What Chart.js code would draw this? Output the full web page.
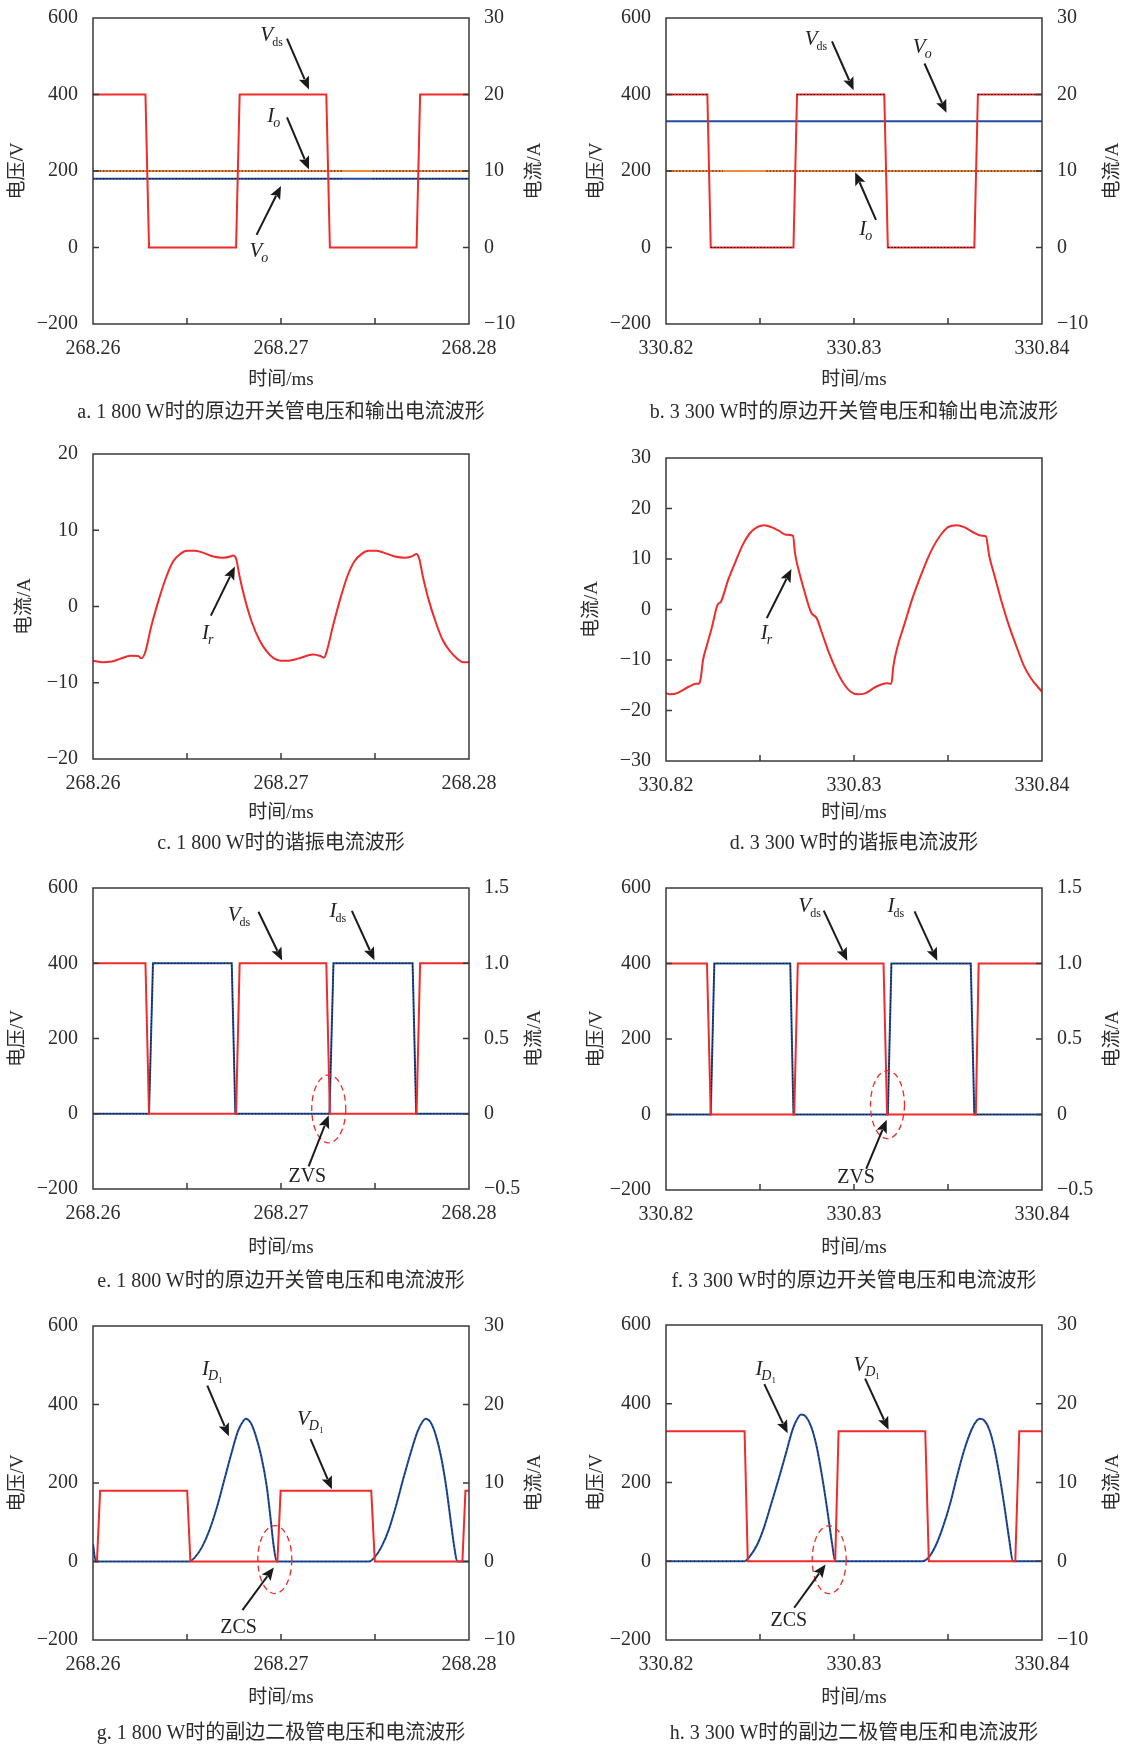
<!DOCTYPE html>
<html><head><meta charset="utf-8">
<script src="https://cdn.jsdelivr.net/npm/chart.js"></script>
<style>
body{margin:0;background:#fff;width:1126px;height:1747px;position:relative;overflow:hidden;}
canvas{position:absolute;}
.cap{position:absolute;font-family:'Liberation Serif','Noto Sans CJK SC',serif;font-size:20px;color:#2b2b2b;white-space:nowrap;transform:translateX(-50%);line-height:24px;}
</style></head><body>
<script>
// ---------------- DATA ----------------
// a: 1800 W primary switch voltage / output
const aVdsT = [268.26, 268.26279, 268.26298, 268.26761, 268.26780, 268.27241, 268.27260, 268.27721, 268.27740, 268.28];
const aVdsV = [400, 400, 0, 0, 400, 400, 0, 0, 400, 400];
const aVoT  = [268.26, 268.28];
const aVoV  = [180, 180];
const aIoT  = [268.26, 268.28];
const aIoA  = [10, 10];
const aDotT = [268.26, 268.27325, 268.27400, 268.27488, 268.28];
const aVoDotV = [180, 180, null, 180, 180];
const aIoDotA = [10, 10, null, 10, 10];

// b: 3300 W
const bVdsT = [330.82, 330.82220, 330.82238, 330.82678, 330.82697, 330.83161, 330.83180, 330.83640, 330.83659, 330.84];
const bVdsV = [400, 400, 0, 0, 400, 400, 0, 0, 400, 400];
const bVdsDotT = [330.82, 330.82220, 330.82230, 330.82238, 330.82678, 330.82690, 330.82697, 330.83161, 330.83170, 330.83180, 330.83640, 330.83650, 330.83659, 330.84];
const bVdsDotV = [400, 400, null, 0, 0, null, 400, 400, null, 0, 0, null, 400, 400];
const bVoT  = [330.82, 330.84];
const bVoV  = [330, 330];
const bIoT  = [330.82, 330.84];
const bIoA  = [10, 10];
const bIoDotT = [330.82, 330.82303, 330.82420, 330.82533, 330.84];
const bIoDotA = [10, 10, null, 10, 10];

// c: 1800 W resonant current
const cT = [268.26000, 268.26050, 268.26100, 268.26140, 268.26200, 268.26240, 268.26258, 268.26279, 268.26310, 268.26350,
            268.26390, 268.26426, 268.26465, 268.26500, 268.26540, 268.26580, 268.26640, 268.26690, 268.26730, 268.26744,
            268.26761, 268.26780, 268.26809, 268.26847, 268.26885, 268.26924, 268.26962, 268.27000, 268.27040, 268.27095,
            268.27170, 268.27210, 268.27229, 268.27243, 268.27276, 268.27314, 268.27352, 268.27390, 268.27429, 268.27467,
            268.27505, 268.27543, 268.27600, 268.27660, 268.27700, 268.27720, 268.27735, 268.27755, 268.27785, 268.27825,
            268.27860, 268.27900, 268.27940, 268.27970, 268.28000];
const cA = [-7.1, -7.3, -7.2, -6.9, -6.45, -6.5, -6.8, -5.9, -2.6, 0.9,
            3.9, 5.9, 6.9, 7.3, 7.3, 7.1, 6.55, 6.4, 6.55, 6.7,
            6.3, 3.9, 0.9, -2.2, -4.4, -5.9, -6.8, -7.1, -7.1, -6.8,
            -6.3, -6.5, -6.7, -5.9, -2.6, 0.9, 3.9, 5.9, 6.9, 7.3,
            7.3, 7.1, 6.6, 6.4, 6.6, 6.9, 6.3, 3.9, 0.9, -2.2,
            -4.4, -5.9, -6.9, -7.3, -7.3];

// d: 3300 W resonant current
const dT = [330.82, 330.82025, 330.82063, 330.82121, 330.82159, 330.82178, 330.82186, 330.82197, 330.82216, 330.82245,
            330.82274, 330.82293, 330.82331, 330.82370, 330.82408, 330.82446, 330.82485, 330.82523, 330.82561, 330.82600,
            330.82638, 330.82676, 330.82686, 330.82705, 330.82734, 330.82772, 330.82801, 330.82830, 330.82868, 330.82906,
            330.82944, 330.82983, 330.83021, 330.83059, 330.83117, 330.83174, 330.83199, 330.83209, 330.83232, 330.83270,
            330.83308, 330.83347, 330.83385, 330.83423, 330.83462, 330.83500, 330.83548, 330.83586, 330.83634, 330.83682,
            330.83701, 330.83720, 330.83749, 330.83787, 330.83826, 330.83864, 330.83902, 330.83941, 330.84];
const dA = [-16.6, -16.8, -16.5, -15.3, -14.7, -14.6, -13.3, -10, -7.3, -3.4,
            0.9, 1.6, 5.9, 9.5, 12.8, 15.1, 16.3, 16.7, 16.3, 15.6,
            14.8, 14.6, 11.2, 7.9, 3.9, -0.6, -1.7, -4.7, -8.7, -12,
            -14.6, -16.3, -16.8, -16.6, -15.3, -14.6, -14.7, -11.3, -7.3, -2.7,
            1.9, 5.9, 9.5, 12.5, 14.8, 16.3, 16.7, 16.3, 15.3, 14.6,
            14.5, 10.5, 6.5, 1.3, -3.4, -7.3, -11, -13.6, -16.3];

// e: 1800 W primary switch V/I
const eVdsT = [268.26, 268.26279, 268.26298, 268.26761, 268.26780, 268.27241, 268.27260, 268.27721, 268.27740, 268.28];
const eVdsV = [400, 400, 0, 0, 400, 400, 0, 0, 400, 400];
const eIdsT = [268.26, 268.26298, 268.26319, 268.26738, 268.26757, 268.27258, 268.27279, 268.27700, 268.27719, 268.28];
const eIdsA = [0, 0, 1, 1, 0, 0, 1, 1, 0, 0];

// f: 3300 W primary switch V/I
const fVdsT = [330.82, 330.82218, 330.82238, 330.82682, 330.82701, 330.83157, 330.83176, 330.83648, 330.83663, 330.84];
const fVdsV = [400, 400, 0, 0, 400, 400, 0, 0, 400, 400];
const fIdsT = [330.82, 330.82238, 330.82257, 330.82661, 330.82678, 330.83180, 330.83199, 330.83621, 330.83640, 330.84];
const fIdsA = [0, 0, 1, 1, 0, 0, 1, 1, 0, 0];

// g: 1800 W secondary diode
const gVdT = [268.26, 268.26021, 268.26038, 268.26501, 268.26518, 268.26981, 268.26998, 268.27480, 268.27499, 268.27965, 268.27981, 268.28];
const gVdV = [0, 0, 180, 180, 0, 0, 180, 180, 0, 0, 180, 180];
const gIdT = [268.26, 268.26015,
              268.26512, 268.26541, 268.26579, 268.26618, 268.26656, 268.26694, 268.26732, 268.26771, 268.26799, 268.26811,
              268.26838, 268.26866, 268.26895, 268.26924, 268.26943, 268.26962, 268.26977,
              268.27468, 268.27497, 268.27535, 268.27574, 268.27612, 268.27650, 268.27688, 268.27727, 268.27755, 268.27769,
              268.27794, 268.27822, 268.27851, 268.27880, 268.27902, 268.27922, 268.27937,
              268.28];
const gIdA = [2.2, 0,
              0, 0.5, 1.8, 3.9, 6.65, 10.0, 13.4, 16.6, 17.9, 18.2,
              17.7, 16.0, 13.4, 9.6, 5.8, 1.8, 0,
              0, 0.5, 1.9, 4.1, 7.1, 10.5, 13.7, 16.6, 17.9, 18.2,
              17.8, 16.2, 13.4, 9.3, 5.3, 1.8, 0,
              0];

// h: 3300 W secondary diode
const hVdT = [330.82, 330.82418, 330.82435, 330.82900, 330.82918, 330.83379, 330.83398, 330.83858, 330.83879, 330.84];
const hVdV = [330, 330, 0, 0, 330, 330, 0, 0, 330, 330];
const hIdT = [330.82,
              330.82418, 330.82446, 330.82485, 330.82523, 330.82561, 330.82600, 330.82638, 330.82676, 330.82705, 330.82718,
              330.82743, 330.82772, 330.82801, 330.82830, 330.82858, 330.82883, 330.82900,
              330.83366, 330.83395, 330.83433, 330.83471, 330.83510, 330.83548, 330.83586, 330.83625, 330.83653, 330.83669,
              330.83692, 330.83720, 330.83749, 330.83778, 330.83803, 330.83826, 330.83845,
              330.84];
const hIdA = [0,
              0, 0.63, 2.1, 4.4, 7.4, 10.5, 13.7, 16.9, 18.35, 18.65,
              18.4, 17.1, 14.6, 10.8, 6.5, 2.3, 0,
              0, 0.42, 1.9, 4.2, 7.2, 10.8, 14.1, 16.7, 17.85, 18.1,
              17.9, 16.7, 14.1, 10.3, 6.5, 2.7, 0,
              0];

// axis ranges / tick steps
const xRange1800 = [268.26, 268.28];
const xRange3300 = [330.82, 330.84];
const xStep = 0.005;
const vAxis = [-200, 600, 200];
const iAxisA = [-10, 30, 10];
const iAxisE = [-0.5, 1.5, 0.5];
const iAxisC = [-20, 20, 10];
const iAxisD = [-30, 30, 10];

// ---------------- STYLE ----------------
const FONT = "'Liberation Serif','Noto Sans CJK SC',serif";
Chart.defaults.font.family = FONT;
Chart.defaults.color = '#2b2b2b';
const RED = '#ef2b2b', BLUE = '#1f4e9e', ORANGE = '#f28a3c', DOT = '#151515', FRAME = '#3a3a3a';
const COLS = [{cx: 0, pl: 93, pr: 469}, {cx: 563, pl: 666, pr: 1042}];

function P(ts, vs) { return ts.map((t, i) => ({x: t, y: vs[i]})); }
function ln(ts, vs, color, axis, extra) {
  return Object.assign({data: P(ts, vs), borderColor: color, borderWidth: 2, pointRadius: 0, tension: 0,
    yAxisID: axis, fill: false, spanGaps: false}, extra || {});
}
function dots(ts, vs, axis, dash, extra) {
  return Object.assign({data: P(ts, vs), borderColor: DOT, borderWidth: 1, borderDash: dash || [1.5, 1.8], pointRadius: 0,
    tension: 0, yAxisID: axis, fill: false, spanGaps: false}, extra || {});
}
const mono = {cubicInterpolationMode: 'monotone'};
const minus = s => String(s).replace('-', '\u2212');

function arrow(ctx, x1, y1, x2, y2) {
  const a = Math.atan2(y2 - y1, x2 - x1), hl = 13, hw = 5.5;
  const bx = x2 - hl * Math.cos(a), by = y2 - hl * Math.sin(a);
  ctx.strokeStyle = '#1a1a1a'; ctx.fillStyle = '#1a1a1a'; ctx.lineWidth = 2; ctx.setLineDash([]);
  ctx.beginPath(); ctx.moveTo(x1, y1); ctx.lineTo(bx + 2 * Math.cos(a), by + 2 * Math.sin(a)); ctx.stroke();
  ctx.beginPath(); ctx.moveTo(x2, y2);
  ctx.lineTo(bx - hw * Math.sin(a), by + hw * Math.cos(a));
  ctx.lineTo(bx + 2.5 * Math.cos(a), by + 2.5 * Math.sin(a));
  ctx.lineTo(bx + hw * Math.sin(a), by - hw * Math.cos(a));
  ctx.closePath(); ctx.fill();
}
function sym(ctx, px, py, L) {
  ctx.fillStyle = '#222'; ctx.textBaseline = 'alphabetic'; ctx.textAlign = 'left';
  ctx.font = 'italic 21px ' + FONT;
  const w = ctx.measureText(L.m).width, x0 = px - w / 2, by = py + 7;
  ctx.fillText(L.m, x0, by);
  if (L.s) {
    ctx.font = (L.si ? 'italic ' : '') + (L.si ? '14px ' : '12px ') + FONT;
    const sx = x0 + w - 1;
    ctx.fillText(L.s, sx, by + 5);
    if (L.ss) {
      const w2 = ctx.measureText(L.s).width;
      ctx.font = '9px ' + FONT;
      ctx.fillText(L.ss, sx + w2, by + 8);
    }
  }
}

const ANN = {};
const deco = {
  id: 'deco',
  afterDatasetsDraw(chart) {
    const {ctx, chartArea: ca, scales} = chart;
    const A = ANN[chart.canvas.id];
    ctx.save();
    ctx.strokeStyle = FRAME; ctx.lineWidth = 1.5;
    for (const id of ['x', 'y', 'y1']) {
      const s = scales[id]; if (!s) continue;
      const tol = (s.max - s.min) * 1e-6;
      s.ticks.forEach(t => {
        if (Math.abs(t.value - s.min) < tol || Math.abs(t.value - s.max) < tol) return;
        const p = s.getPixelForValue(t.value);
        ctx.beginPath();
        if (id === 'x') { ctx.moveTo(p, ca.bottom); ctx.lineTo(p, ca.bottom - 6); }
        else if (id === 'y') { ctx.moveTo(ca.left, p); ctx.lineTo(ca.left + 6, p); }
        else { ctx.moveTo(ca.right, p); ctx.lineTo(ca.right - 6, p); }
        ctx.stroke();
      });
    }
    ctx.strokeRect(ca.left, ca.top, ca.right - ca.left, ca.bottom - ca.top);
    const X = v => scales.x.getPixelForValue(v), Y = v => scales.y.getPixelForValue(v);
    (A.ell || []).forEach(e => {
      ctx.beginPath(); ctx.setLineDash([6, 4]); ctx.strokeStyle = RED; ctx.lineWidth = 1.3;
      ctx.ellipse(X(e.x), Y(e.y), 17, 34, 0, 0, Math.PI * 2); ctx.stroke(); ctx.setLineDash([]);
    });
    (A.arrows || []).forEach(r => arrow(ctx, X(r[0]), Y(r[1]), X(r[2]), Y(r[3])));
    (A.labels || []).forEach(L => sym(ctx, X(L.x), Y(L.y), L));
    (A.texts || []).forEach(T => {
      ctx.font = '20px ' + FONT; ctx.fillStyle = '#222'; ctx.textAlign = 'center'; ctx.textBaseline = 'middle';
      ctx.fillText(T.t, X(T.x), Y(T.y));
    });
    // axis titles
    const tt = A.titles;
    ctx.font = '19px ' + FONT; ctx.fillStyle = '#2b2b2b'; ctx.textAlign = 'center'; ctx.textBaseline = 'middle';
    const cy = (ca.top + ca.bottom) / 2;
    const rot = (txt, x) => { ctx.save(); ctx.translate(x, cy); ctx.rotate(-Math.PI / 2); ctx.fillText(txt, 0, 0); ctx.restore(); };
    rot(tt.left, ca.left - tt.ldx);
    if (tt.right) rot(tt.right, ca.right + tt.rdx);
    ctx.fillText(tt.x, (ca.left + ca.right) / 2, ca.bottom + tt.xdy);
    ctx.restore();
  }
};

function yScale(pos, r, w, fmt) {
  return {type: 'linear', position: pos, min: r[0], max: r[1],
    ticks: {stepSize: r[2], padding: 15, font: {size: 20}, color: '#2b2b2b', callback: fmt},
    grid: {display: false, drawTicks: false}, border: {display: false},
    afterFit: s => { s.width = w; }};
}
const fmtInt = v => minus(v);
const fmtDec = v => v === 0 ? '0' : minus(v.toFixed(1));

function panel(id, g, xr, yl, yr, yrFmt, datasets, ann, caption, capY) {
  const col = COLS[g.col];
  const lw = col.pl - col.cx, rw = col.cx + 563 - col.pr;
  const cv = document.createElement('canvas');
  cv.id = id; cv.width = 563; cv.height = 30 + (g.bottom - g.top) + 80;
  cv.style.left = col.cx + 'px'; cv.style.top = (g.top - 30) + 'px';
  document.body.appendChild(cv);
  ANN[id] = ann;
  const scales = {
    x: {type: 'linear', position: 'bottom', min: xr[0], max: xr[1],
      ticks: {stepSize: xStep, padding: 13, font: {size: 20}, color: '#2b2b2b', maxRotation: 0, autoSkip: false,
        callback: v => (Math.round(v * 1000) % 10 === 0) ? v.toFixed(2) : ''},
      grid: {display: false, drawTicks: false}, border: {display: false},
      afterFit: s => { s.height = 80; }},
    y: yScale('left', yl, lw, fmtInt)
  };
  if (yr) scales.y1 = yScale('right', yr, rw, yrFmt);
  new Chart(cv, {
    type: 'line',
    data: {datasets},
    options: {responsive: false, animation: false, events: [],
      layout: {padding: {top: 30, left: 0, right: yr ? 0 : rw, bottom: 0}},
      plugins: {legend: {display: false}, tooltip: {enabled: false}},
      scales},
    plugins: [deco]
  });
  const d = document.createElement('div');
  d.className = 'cap'; d.textContent = caption;
  d.style.left = ((col.pl + col.pr) / 2) + 'px'; d.style.top = (capY - 12) + 'px';
  document.body.appendChild(d);
}

const T1 = (xdy, ldx, rdx) => ({left: '电压/V', ldx, right: '电流/A', rdx, x: '时间/ms', xdy});

// a
panel('a', {col: 0, top: 18, bottom: 324}, xRange1800, vAxis, iAxisA, fmtInt, [
  ln(aVdsT, aVdsV, RED, 'y'),
  dots(aDotT, aVoDotV, 'y'),
  dots(aDotT, aIoDotA, 'y1'),
  ln(aVoT, aVoV, BLUE, 'y'),
  ln(aIoT, aIoA, ORANGE, 'y1')
], {titles: T1(56, 75, 66),
  labels: [{x: 268.26924, y: 559, m: 'V', s: 'ds'}, {x: 268.26946, y: 346, m: 'I', s: 'o', si: true}, {x: 268.26866, y: -6, m: 'V', s: 'o', si: true}],
  arrows: [[268.27032, 546, 268.27149, 413], [268.27032, 340, 268.27149, 204], [268.26870, 33, 268.27000, 161]]},
  'a. 1 800 W时的原边开关管电压和输出电流波形', 411);

// b
panel('b', {col: 1, top: 18, bottom: 324}, xRange3300, vAxis, iAxisA, fmtInt, [
  dots(bVdsDotT, bVdsDotV, 'y'),
  ln(bVdsT, bVdsV, RED, 'y'),
  dots(bIoDotT, bIoDotA, 'y1'),
  ln(bVoT, bVoV, BLUE, 'y'),
  ln(bIoT, bIoA, ORANGE, 'y1')
], {titles: T1(56, 69, 71),
  labels: [{x: 330.82772, y: 548, m: 'V', s: 'ds'}, {x: 330.83347, y: 526, m: 'V', s: 'o', si: true}, {x: 330.83046, y: 50, m: 'I', s: 'o', si: true}],
  arrows: [[330.82883, 539, 330.82998, 411], [330.83375, 481, 330.83492, 352], [330.83117, 72, 330.83006, 197]]},
  'b. 3 300 W时的原边开关管电压和输出电流波形', 411);

// c
panel('c', {col: 0, top: 454, bottom: 759}, xRange1800, iAxisC, null, null, [
  ln(cT, cA, RED, 'y', mono)
], {titles: {left: '电流/A', ldx: 68, x: '时间/ms', xdy: 54},
  labels: [{x: 268.26598, y: -3.3, m: 'I', s: 'r', si: true}],
  arrows: [[268.26627, -1.2, 268.26755, 5.24]]},
  'c. 1 800 W时的谐振电流波形', 842);

// d
panel('d', {col: 1, top: 458, bottom: 761}, xRange3300, iAxisD, null, null, [
  ln(dT, dA, RED, 'y', mono)
], {titles: {left: '电流/A', ldx: 74, x: '时间/ms', xdy: 52},
  labels: [{x: 330.82523, y: -4.4, m: 'I', s: 'r', si: true}],
  arrows: [[330.82536, -1.7, 330.82667, 8.0]]},
  'd. 3 300 W时的谐振电流波形', 842);

// e
panel('e', {col: 0, top: 888, bottom: 1189}, xRange1800, vAxis, iAxisE, fmtDec, [
  ln(eVdsT, eVdsV, RED, 'y'),
  dots(eIdsT, eIdsA, 'y1'),
  ln(eIdsT, eIdsA, BLUE, 'y1')
], {titles: T1(59, 75, 66),
  labels: [{x: 268.26751, y: 530, m: 'V', s: 'ds'}, {x: 268.27277, y: 541, m: 'I', s: 'ds'}],
  texts: [{x: 268.27140, y: -168, t: 'ZVS'}],
  arrows: [[268.26880, 537, 268.27006, 407], [268.27377, 539, 268.27497, 408], [268.27147, -140, 268.27254, -4]],
  ell: [{x: 268.27254, y: 13}]},
  'e. 1 800 W时的原边开关管电压和电流波形', 1280);

// f
panel('f', {col: 1, top: 888, bottom: 1190}, xRange3300, vAxis, iAxisE, fmtDec, [
  ln(fVdsT, fVdsV, RED, 'y'),
  dots(fIdsT, fIdsA, 'y1'),
  ln(fIdsT, fIdsA, BLUE, 'y1')
], {titles: T1(58, 69, 71),
  labels: [{x: 330.82738, y: 555, m: 'V', s: 'ds'}, {x: 330.83197, y: 555, m: 'I', s: 'ds'}],
  texts: [{x: 330.83011, y: -168, t: 'ZVS'}],
  arrows: [[330.82839, 540, 330.82964, 407], [330.83322, 538, 330.83443, 407], [330.83065, -144, 330.83174, -14]],
  ell: [{x: 330.83178, y: 26}]},
  'f. 3 300 W时的原边开关管电压和电流波形', 1280);

// g
panel('g', {col: 0, top: 1326, bottom: 1640}, xRange1800, vAxis, iAxisA, fmtInt, [
  ln(gVdT, gVdV, RED, 'y'),
  dots(gIdT, gIdA, 'y1', [1, 3], mono),
  ln(gIdT, gIdA, BLUE, 'y1', mono)
], {titles: T1(58, 75, 66),
  labels: [{x: 268.26598, y: 493, m: 'I', s: 'D', si: true, ss: '1'}, {x: 268.27119, y: 366, m: 'V', s: 'D', si: true, ss: '1'}],
  texts: [{x: 268.26774, y: -168, t: 'ZCS'}],
  arrows: [[268.26608, 448, 268.26723, 319], [268.27157, 312, 268.27271, 184], [268.26795, -124, 268.26962, -15]],
  ell: [{x: 268.26967, y: 5}]},
  'g. 1 800 W时的副边二极管电压和电流波形', 1732);

// h
panel('h', {col: 1, top: 1325, bottom: 1640}, xRange3300, vAxis, iAxisA, fmtInt, [
  ln(hVdT, hVdV, RED, 'y'),
  dots(hIdT, hIdA, 'y1', [1, 3], mono),
  ln(hIdT, hIdA, BLUE, 'y1', mono)
], {titles: T1(58, 69, 71),
  labels: [{x: 330.82494, y: 490, m: 'I', s: 'D', si: true, ss: '1'}, {x: 330.83031, y: 502, m: 'V', s: 'D', si: true, ss: '1'}],
  texts: [{x: 330.82653, y: -152, t: 'ZCS'}],
  arrows: [[330.82523, 450, 330.82647, 325], [330.83059, 464, 330.83184, 334], [330.82682, -118, 330.82849, -8]],
  ell: [{x: 330.82868, y: 4}]},
  'h. 3 300 W时的副边二极管电压和电流波形', 1732);
</script>
</body></html>
